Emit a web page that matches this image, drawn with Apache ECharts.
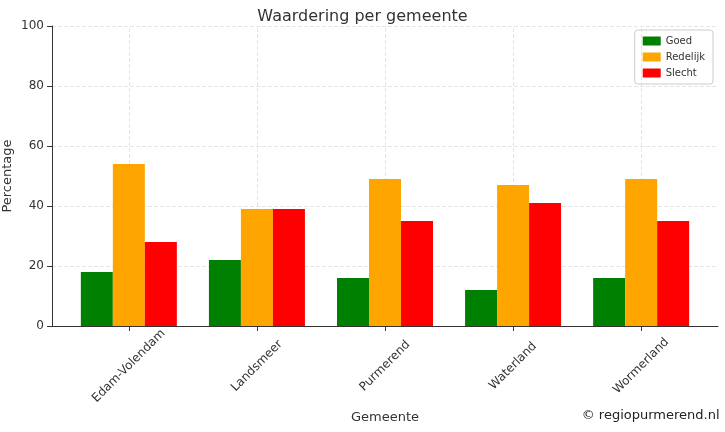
<!DOCTYPE html>
<html><head><meta charset="utf-8">
<script src="https://cdn.jsdelivr.net/npm/echarts@6/dist/echarts.min.js"></script>
<style>html,body{margin:0;padding:0;background:#fff}#c{width:725px;height:432px}</style>
</head><body><div id="c"></div>
<script>
const categories = ["Edam-Volendam","Landsmeer","Purmerend","Waterland","Wormerland"];
const goed = [18,22,16,12,16];
const redelijk = [54,39,49,47,49];
const slecht = [28,39,35,41,35];
const yTicks = [0,20,40,60,80,100];

const idx = categories.map((c,i)=>i);
const pts = arr => arr.map((v,i)=>[i,v]);
const chart = echarts.init(document.getElementById('c'));
const font = 'DejaVu Sans';
chart.setOption({
  animation:false,
  textStyle:{fontFamily:font},
  title:{text:'Waardering per gemeente',left:'center',top:4,textStyle:{fontFamily:font,fontSize:16,fontWeight:'normal',color:'#333'}},
  legend:{orient:'vertical',right:12,top:30,itemWidth:18,itemHeight:9,itemGap:6,
    borderColor:'#ccc',borderWidth:1,borderRadius:3,padding:[6,8],
    icon:'rect',textStyle:{fontSize:10,color:'#333'},data:['Goed','Redelijk','Slecht']},
  grid:{left:52,right:7,top:26,bottom:106,containLabel:false,outerBoundsMode:'none'},
  xAxis:{type:'value',min:-0.6,max:4.6,name:'Gemeente',nameLocation:'middle',nameGap:85,nameMoveOverlap:false,
    nameTextStyle:{fontSize:13,color:'#333'},
    axisLine:{show:true,onZero:false,lineStyle:{color:'#333'}},
    axisTick:{show:true,customValues:idx,lineStyle:{color:'#333'}},
    axisLabel:{rotate:45,fontSize:12,color:'#333',margin:40,align:'center',verticalAlign:'middle',
      customValues:idx,formatter:v=>categories[Math.round(v)]},
    splitLine:{show:false}},
  yAxis:{type:'value',min:0,max:100,interval:20,name:'Percentage',nameLocation:'middle',nameGap:38,nameMoveOverlap:false,
    nameTextStyle:{fontSize:13,color:'#333'},
    axisLine:{show:true,onZero:false,lineStyle:{color:'#333'}},axisTick:{show:true,lineStyle:{color:'#333'}},
    axisLabel:{fontSize:12,color:'#333',formatter:v=>yTicks.includes(v)?String(v):''},
    splitLine:{show:true,lineStyle:{color:'#e5e5e5',type:'dashed'}}},
  series:[
    {name:'grid',type:'line',data:[],z:0,silent:true,
     markLine:{silent:true,z:0,symbol:'none',label:{show:false},lineStyle:{color:'#e5e5e5',type:'dashed',width:1},
       data:idx.map(i=>({xAxis:i}))}},
    {name:'Goed',type:'bar',data:pts(goed),barWidth:32,barGap:'0%',z:3,itemStyle:{color:'#008000'}},
    {name:'Redelijk',type:'bar',data:pts(redelijk),barWidth:32,barGap:'0%',z:3,itemStyle:{color:'#FFA500'}},
    {name:'Slecht',type:'bar',data:pts(slecht),barWidth:32,barGap:'0%',z:3,itemStyle:{color:'#FF0000'}}
  ],
  graphic:[{type:'text',right:4,bottom:8,style:{text:'© regiopurmerend.nl',fontSize:13,fill:'#222',fontFamily:font,stroke:'#fff',lineWidth:3}}]
});
</script></body></html>
